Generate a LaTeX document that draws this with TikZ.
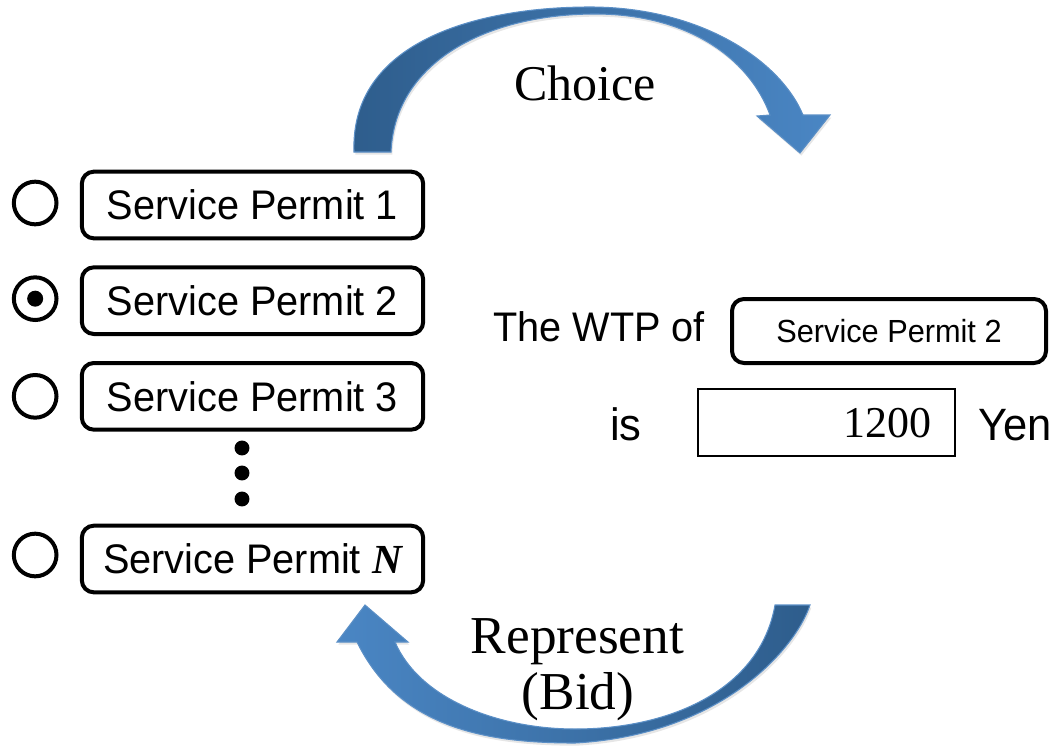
\documentclass[tikz,border=0pt]{standalone}
\usepackage{fontspec}
\setmainfont{Liberation Serif}
\newfontfamily\permitfont[FakeStretch=0.96]{Liberation Sans}
\usetikzlibrary{positioning,shadows}

\definecolor{arrowdark}{HTML}{2E5D8C}
\definecolor{arrowlight}{HTML}{4A86C4}
\definecolor{arrowedge}{HTML}{5B8FC6}

\begin{document}
\begin{tikzpicture}[
    x=0.75pt, y=-0.75pt,
    node distance=18.75pt and 16pt,
    permit/.style={draw, line width=3pt, rounded corners=9pt, minimum width=256pt, minimum height=50pt, inner sep=0pt, text height=22pt, text depth=0pt, font=\permitfont\fontsize{31}{36}\selectfont},
    radio/.style={draw, circle, line width=3pt, minimum size=32pt, inner sep=0pt},
    wtptext/.style={inner sep=0pt, font=\permitfont\fontsize{31}{36}\selectfont},
    cyclelabel/.style={inner sep=0pt, font=\fontsize{37.5}{42}\selectfont},
    bigarrow/.style={draw=arrowedge, line width=0.8pt, drop shadow={opacity=0.2, shadow xshift=1pt, shadow yshift=-2pt}}
]
    % curved arrows
    \path[bigarrow, left color=arrowdark, right color=arrowlight]
        (354,152) .. controls (350,40) and (480,7) .. (590,7)
        .. controls (700,7) and (780,60) .. (803,115)
        -- (830,115) -- (800,153) -- (757,116) -- (770,115)
        .. controls (750,60) and (690,14) .. (595,14)
        .. controls (490,14) and (395,60) .. (391,152) -- cycle;
    \path[bigarrow, left color=arrowlight, right color=arrowdark]
        (775,605) -- (810,605) .. controls (795,650) and (720,735) .. (575,743)
        .. controls (490,743) and (400,730) .. (357,642)
        -- (337,642) -- (365,605) -- (408,642) -- (395,642)
        .. controls (420,700) and (500,729) .. (575,729)
        .. controls (670,729) and (760,690) .. (775,605) -- cycle;

    \node[cyclelabel, anchor=base] (choice) at (585,100) {Choice};
    \node[cyclelabel, anchor=base, font=\fontsize{40}{44}\selectfont] (represent) at (577.5,653) {Represent};
    \node[cyclelabel, anchor=base, font=\fontsize{40}{44}\selectfont] (bidlabel) at (578,709) {(Bid)};

    % permit list
    \node[permit] (permit1) at (252.5,205) {Service Permit 1};
    \node[permit, below=of permit1] (permit2) {Service Permit 2};
    \node[permit, below=of permit2] (permit3) {Service Permit 3};
    \node[permit, below=69pt of permit3] (permitN) {Service Permit {\rmfamily\bfseries\itshape N}};

    \node[radio, left=of permit1, yshift=1.5pt] (radio1) {};
    \node[radio, left=of permit2, yshift=1.5pt] (radio2) {};
    \node[radio, left=of permit3] (radio3) {};
    \node[radio, left=of permitN, yshift=3pt] (radioN) {};
    \fill (radio2.center) circle (6pt);

    \foreach \y in {448,473,499}
        \fill (242,\y) circle (5.6pt);

    % WTP statement
    \node[wtptext, anchor=base west] (wtp) at (493,341) {The WTP of};
    \node[permit, minimum width=235.5pt, minimum height=48pt, text height=17pt, font=\permitfont\fontsize{24}{28}\selectfont] (wtpbox) at (889,331) {Service Permit 2};
    \node[wtptext, anchor=base, font=\permitfont\fontsize{34}{38}\selectfont] (is) at (626,440) {is};
    \node[draw, line width=1.5pt, minimum height=50.25pt, text width=156.75pt, inner xsep=18pt, inner ysep=0pt, align=right, text height=22pt, text depth=0pt, font=\fontsize{33}{36}\selectfont] (bid) at (826.5,422.5) {1200};
    \node[wtptext, anchor=base west, font=\permitfont\fontsize{34}{38}\selectfont] (yen) at (978,440) {Yen};

    \useasboundingbox (0,0) rectangle (1062,749);
\end{tikzpicture}
\end{document}
